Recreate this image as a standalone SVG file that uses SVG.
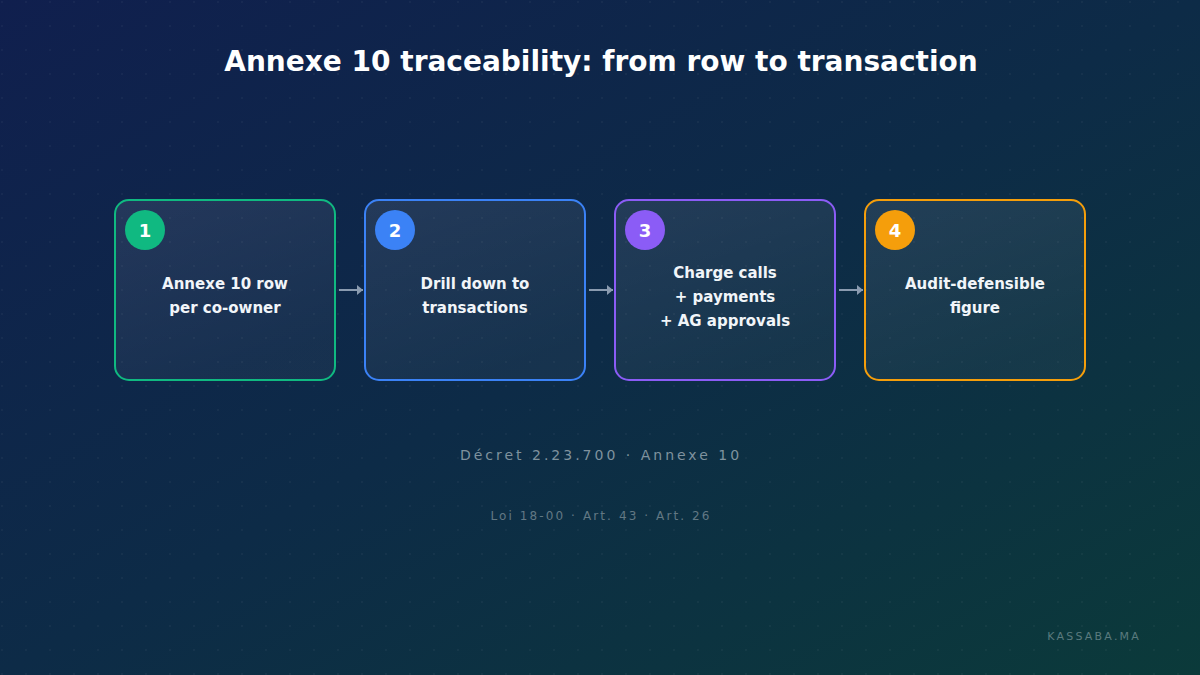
<svg xmlns="http://www.w3.org/2000/svg" width="1200" height="675" viewBox="0 0 1200 675">
<defs>
<linearGradient id="bg" x1="0" y1="0" x2="1" y2="1">
<stop offset="0" stop-color="#101f4e"/>
<stop offset="0.5" stop-color="#0d2b47"/>
<stop offset="1" stop-color="#0b3a3a"/>
</linearGradient>
<linearGradient id="card" x1="0" y1="0" x2="0.4" y2="1">
<stop offset="0" stop-color="#ffffff" stop-opacity="0.09"/>
<stop offset="1" stop-color="#ffffff" stop-opacity="0.04"/>
</linearGradient>
<pattern id="dots" width="24" height="24" patternUnits="userSpaceOnUse">
<rect x="1.3" y="1.3" width="1.4" height="1.4" fill="#ffffff" fill-opacity="0.07"/>
</pattern>
<marker id="arr" viewBox="0 0 6 10" refX="6" refY="5" markerWidth="6" markerHeight="10" markerUnits="userSpaceOnUse" orient="auto">
<path d="M0,0 L6,5 L0,10 z" fill="#8a9bb0"/>
</marker>
<style>
.t{font-family:"DejaVu Sans","Liberation Sans",sans-serif;}
.lbl{font-size:15px;font-weight:bold;fill:#f1f5f9;text-anchor:middle;}
.num{font-size:18px;font-weight:bold;fill:#ffffff;text-anchor:middle;}
.conn{stroke:#8a9bb0;stroke-width:2;fill:none;}
</style>
</defs>
<rect width="1200" height="675" fill="url(#bg)"/>
<rect width="1200" height="675" fill="url(#dots)"/>
<text class="t" x="601" y="71" font-size="28" font-weight="bold" fill="#ffffff" text-anchor="middle">Annexe 10 traceability: from row to transaction</text>

<g id="connectors">
<line class="conn" x1="339" y1="290" x2="363" y2="290" marker-end="url(#arr)"/>
<line class="conn" x1="589" y1="290" x2="613" y2="290" marker-end="url(#arr)"/>
<line class="conn" x1="839" y1="290" x2="863" y2="290" marker-end="url(#arr)"/>
</g>

<g id="node1">
<rect x="115" y="200" width="220" height="180" rx="14" fill="url(#card)" stroke="#10b981" stroke-width="2"/>
<circle cx="145" cy="230" r="20" fill="#10b981"/>
<text class="t num" x="145" y="237">1</text>
<text class="t lbl" x="225" y="289">Annexe 10 row</text>
<text class="t lbl" x="225" y="313">per co-owner</text>
</g>
<g id="node2">
<rect x="365" y="200" width="220" height="180" rx="14" fill="url(#card)" stroke="#3b82f6" stroke-width="2"/>
<circle cx="395" cy="230" r="20" fill="#3b82f6"/>
<text class="t num" x="395" y="237">2</text>
<text class="t lbl" x="475" y="289">Drill down to</text>
<text class="t lbl" x="475" y="313">transactions</text>
</g>
<g id="node3">
<rect x="615" y="200" width="220" height="180" rx="14" fill="url(#card)" stroke="#8b5cf6" stroke-width="2"/>
<circle cx="645" cy="230" r="20" fill="#8b5cf6"/>
<text class="t num" x="645" y="237">3</text>
<text class="t lbl" x="725" y="278">Charge calls</text>
<text class="t lbl" x="725" y="302">+ payments</text>
<text class="t lbl" x="725" y="326">+ AG approvals</text>
</g>
<g id="node4">
<rect x="865" y="200" width="220" height="180" rx="14" fill="url(#card)" stroke="#f59e0b" stroke-width="2"/>
<circle cx="895" cy="230" r="20" fill="#f59e0b"/>
<text class="t num" x="895" y="237">4</text>
<text class="t lbl" x="975" y="289">Audit-defensible</text>
<text class="t lbl" x="975" y="313">figure</text>
</g>

<text class="t" x="601" y="460" font-size="14" letter-spacing="3" fill="#7f929e" text-anchor="middle">Décret 2.23.700 · Annexe 10</text>
<text class="t" x="601" y="520" font-size="12" letter-spacing="2.1" fill="#627884" text-anchor="middle">Loi 18-00 · Art. 43 · Art. 26</text>
<text class="t" x="1141" y="640" font-size="11" letter-spacing="2.2" fill="#5a7a7e" text-anchor="end">KASSABA.MA</text>
</svg>
